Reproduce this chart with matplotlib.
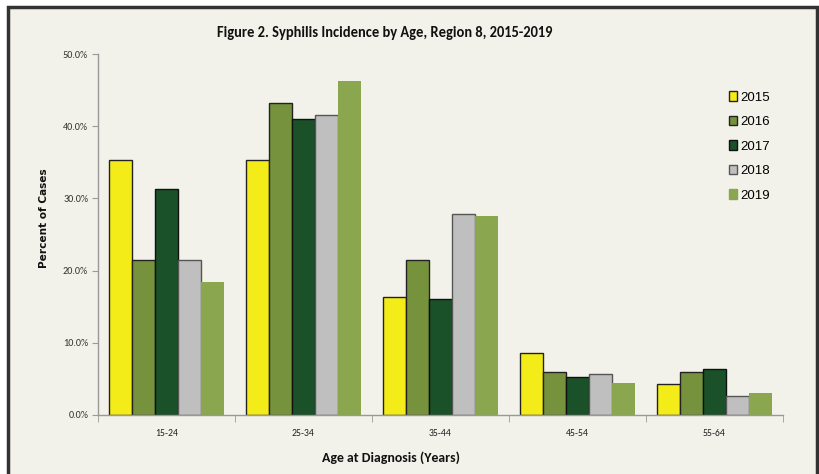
import matplotlib
matplotlib.use("Agg")
import matplotlib.pyplot as plt
from matplotlib import font_manager
from matplotlib.patches import Rectangle, Patch
import numpy as np

categories = ["15-24", "25-34", "35-44", "45-54", "55-64"]
years = ["2015", "2016", "2017", "2018", "2019"]
values = {
    "2015": [35.3, 35.3, 16.4, 8.6, 4.3],
    "2016": [21.5, 43.2, 21.5, 6.0, 6.0],
    "2017": [31.3, 41.0, 16.1, 5.2, 6.4],
    "2018": [21.4, 41.5, 27.8, 5.7, 2.7],
    "2019": [18.4, 46.3, 27.6, 4.4, 3.0],
}
yticks = [0, 10, 20, 30, 40, 50]
title = "Figure 2. Syphilis Incidence by Age, Region 8, 2015-2019"
xlabel = "Age at Diagnosis (Years)"
ylabel = "Percent of Cases"

colors = {"2015": "#f3ec19", "2016": "#76923c", "2017": "#1a5128",
          "2018": "#bfbfbf", "2019": "#8aa64e"}
edges = {"2015": "#222222", "2016": "#222222", "2017": "#111111",
         "2018": "#555555", "2019": "none"}

avail = {f.name for f in font_manager.fontManager.ttflist}
def pick(prefs):
    for p in prefs:
        if p in avail:
            return p
    return "DejaVu Sans"
narrow = pick(["Carlito", "Liberation Sans Narrow", "Open Sans", "Roboto"])
arial = pick(["Liberation Sans Narrow", "Liberation Sans", "Arimo", "DejaVu Sans"])
verdana = pick(["DejaVu Sans"])

W, H = 820, 474
fig = plt.figure(figsize=(W / 100, H / 100), dpi=100, facecolor="white")
bg = "#f2f2ea"
fig.patches.append(Rectangle((8 / W, -0.05), (817 - 8) / W, 1.05 - 7 / H,
                             transform=fig.transFigure, facecolor=bg,
                             edgecolor="#333333", linewidth=2.5, zorder=-10))

ax = fig.add_axes([98 / W, (H - 415) / H, (783 - 98) / W, 361 / H])
ax.set_facecolor("none")
x = np.arange(len(categories))
w = 1 / 6
for j, yr in enumerate(years):
    ax.bar(x + (j - 2) * w, values[yr], width=w, color=colors[yr],
           edgecolor=edges[yr], linewidth=1.0 if edges[yr] != "none" else 0,
           label=yr, zorder=2)

ax.set_xlim(-0.5, len(categories) - 0.5)
ax.set_ylim(0, 50)
ax.set_yticks(yticks)
ax.set_yticklabels([f"{v:.1f}%" for v in yticks], fontfamily=narrow,
                   fontsize=7.3, color="#333333")
ax.set_xticks(x)
ax.set_xticklabels(categories, fontfamily=narrow, fontsize=7, color="#222222")
ax.set_xticks(np.arange(-0.5, len(categories) + 0.5, 1), minor=True)
ax.tick_params(axis="x", which="major", length=0, pad=10)
ax.tick_params(axis="x", which="minor", length=5, color="#999999", direction="out")
ax.tick_params(axis="y", length=4, color="#999999", pad=3)
for s in ["top", "right"]:
    ax.spines[s].set_visible(False)
for s in ["left", "bottom"]:
    ax.spines[s].set_color("#999999")
    ax.spines[s].set_linewidth(1.0)

ax.set_xlabel(xlabel, fontfamily=narrow, fontweight="bold", fontsize=10,
              color="#111111")
ax.xaxis.set_label_coords((391 - 98) / (783 - 98), -(458 - 415) / 361)
ax.xaxis.label.set_va("center")
ax.set_ylabel(ylabel, fontfamily=verdana, fontweight="bold", fontsize=7.6,
              color="#111111")
ax.yaxis.set_label_coords(-(98 - 44) / (783 - 98), (415 - 218) / 361)
ax.yaxis.label.set_va("center")

t = fig.text(385 / W, 1 - 33 / H, title, ha="center", va="center",
             fontfamily=narrow, fontweight="bold", fontsize=11, color="#111111")
fig.canvas.draw()
bb = t.get_window_extent()
t.set_fontsize(11 * 336 / bb.width)

handles = [Patch(facecolor=colors[yr],
                 edgecolor=edges[yr] if edges[yr] != "none" else colors[yr],
                 linewidth=1.0) for yr in years]
leg = fig.legend(handles, years, loc="upper left",
                 bbox_to_anchor=(724 / W, 1 - 86 / H), frameon=False,
                 prop={"family": arial, "size": 9.5}, handlelength=0.6,
                 handleheight=0.7, handletextpad=0.2, labelspacing=0.93,
                 borderaxespad=0)

fig.savefig("out.png", dpi=100, facecolor="white")
